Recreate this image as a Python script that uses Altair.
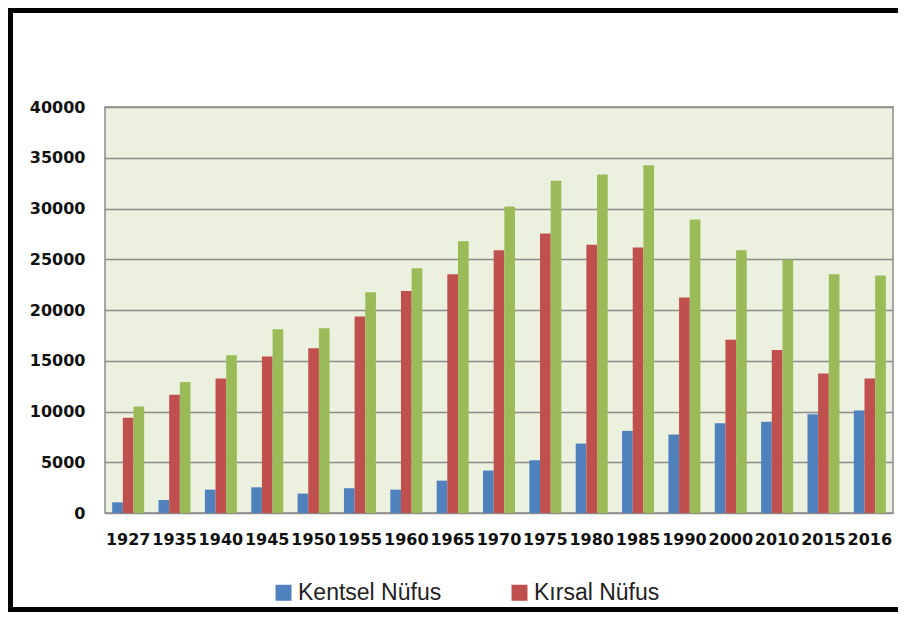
import altair as alt
import pandas as pd

years = ["1927", "1935", "1940", "1945", "1950", "1955", "1960", "1965", "1970",
         "1975", "1980", "1985", "1990", "2000", "2010", "2015", "2016"]
kentsel = [1050, 1280, 2300, 2530, 1910, 2440, 2300, 3190, 4180,
           5200, 6840, 8090, 7730, 8850, 8980, 9740, 10100]
kirsal = [9380, 11650, 13260, 15430, 16220, 19350, 21880, 23520, 25890,
          27540, 26420, 26160, 21220, 17080, 16060, 13750, 13260]
toplam = [10500, 12900, 15530, 18100, 18190, 21750, 24120, 26780, 30200,
          32740, 33360, 34250, 28920, 25890, 24940, 23520, 23390]
series = ["Kentsel Nüfus", "Kırsal Nüfus", "Toplam Nüfus"]
colors = ["#4F81BD", "#C0504D", "#9BBB59"]
y_ticks = [0, 5000, 10000, 15000, 20000, 25000, 30000, 35000, 40000]

rows = []
for vals, name in zip([kentsel, kirsal, toplam], series):
    for yr, v in zip(years, vals):
        rows.append({"Yıl": yr, "Seri": name, "Nüfus": v})
df = pd.DataFrame(rows)

lab_font = "DejaVu Sans"

bars = alt.Chart(df).mark_bar().encode(
    x=alt.X("Yıl:N", sort=years,
            scale=alt.Scale(paddingInner=0.31, paddingOuter=0.155),
            axis=alt.Axis(title=None, labelAngle=0, ticks=False, domain=False,
                          labelOverlap=False, labelPadding=18,
                          labelFont=lab_font, labelFontSize=16,
                          labelFontWeight="bold", labelColor="#111")),
    xOffset=alt.XOffset("Seri:N", sort=series,
                        scale=alt.Scale(paddingInner=0, paddingOuter=0)),
    y=alt.Y("Nüfus:Q", scale=alt.Scale(domain=[0, 40000], nice=False),
            axis=alt.Axis(title=None, values=y_ticks, format="d", ticks=False,
                          domain=False, labelPadding=20, labelFont=lab_font,
                          labelFontSize=16, labelFontWeight="bold",
                          labelColor="#111",
                          gridColor="#8c8c8c", gridWidth=1.5)),
    color=alt.Color("Seri:N", sort=series,
                    scale=alt.Scale(domain=series, range=colors),
                    legend=alt.Legend(values=series[:2], title=None, orient="none",
                                      legendX=167, legendY=474,
                                      direction="horizontal",
                                      symbolType="square", symbolSize=256,
                                      symbolStrokeWidth=0,
                                      labelFont="Liberation Sans", labelFontSize=23,
                                      labelColor="#222", labelLimit=300,
                                      labelOffset=3, columnPadding=66, padding=0)),
)

one = pd.DataFrame({"f": [0]})
frame_left = alt.Chart(one).mark_rule(color="black", strokeWidth=5).encode(
    x=alt.value(-94.5), y=alt.value(-99), y2=alt.value(505))
frame_top = alt.Chart(one).mark_rule(color="black", strokeWidth=5).encode(
    x=alt.value(-97), x2=alt.value(793), y=alt.value(-96.5))
frame_bottom = alt.Chart(one).mark_rule(color="black", strokeWidth=5).encode(
    x=alt.value(-97), x2=alt.value(793), y=alt.value(502.5))

chart = alt.layer(bars, frame_left, frame_top, frame_bottom).properties(
    width=788, height=406,
    padding={"left": 97, "top": 99, "right": 5, "bottom": 99},
    autosize=alt.AutoSizeParams(type="none"),
    background="white",
).configure_view(
    fill="#EBF1DE", stroke="#8c8c8c", strokeWidth=1.5
)

chart.save("out.html", embed_options={"renderer": "svg", "actions": False})
